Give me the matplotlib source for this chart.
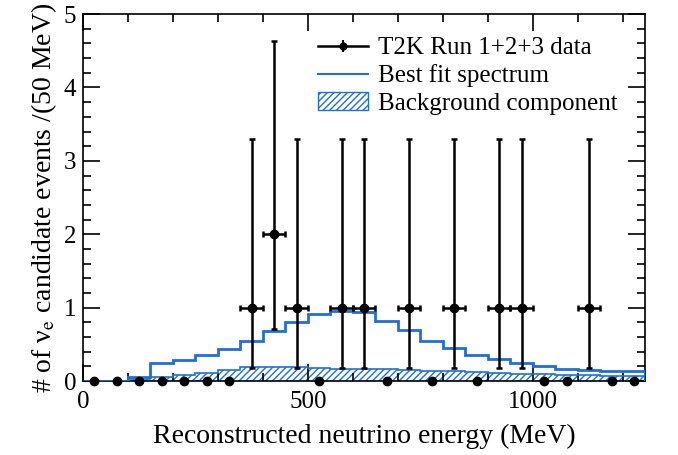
import numpy as np
import matplotlib.pyplot as plt
from matplotlib.patches import Patch
from matplotlib.lines import Line2D
from matplotlib.ticker import MultipleLocator

plt.rcParams['font.family'] = ['Liberation Serif', 'DejaVu Serif']
plt.rcParams['mathtext.fontset'] = 'stix'
plt.rcParams['hatch.linewidth'] = 1.0

# 50 MeV bins from 0 to 1250 MeV
bin_edges = np.arange(0, 1251, 50)
bin_centers = bin_edges[:-1] + 25

# observed events per bin
data_counts = [0, 0, 0, 0, 0, 0, 0, 1, 2, 1, 0, 1, 1, 0, 1, 0, 1, 0, 1, 1, 0, 0, 1, 0, 0]
# poisson 68% intervals (lower / upper edge)
err_low = {1: 0.173, 2: 0.708}
err_high = {1: 3.30, 2: 4.64}

# best fit spectrum
best_fit = [0.0, 0.0, 0.05, 0.25, 0.29, 0.36, 0.43, 0.55, 0.68, 0.81, 0.91, 0.96, 0.945,
            0.82, 0.70, 0.55, 0.45, 0.36, 0.30, 0.24, 0.20, 0.17, 0.15, 0.14, 0.13]
# background component
background = [0.0, 0.0, 0.03, 0.05, 0.08, 0.11, 0.15, 0.19, 0.19, 0.19, 0.18, 0.17, 0.165,
              0.16, 0.15, 0.14, 0.13, 0.12, 0.11, 0.10, 0.09, 0.08, 0.08, 0.07, 0.07]

blue = '#1f6fd6'

fig = plt.figure(figsize=(6.78, 4.55), dpi=100)
ax = fig.add_axes([0.1224, 0.1626, 0.8296, 0.8064])

# background, hatched
ax.stairs(background, bin_edges, fill=True, facecolor='white', edgecolor=blue,
          hatch='/////', linewidth=0, zorder=1)
ax.stairs(background, bin_edges, color=blue, linewidth=1.2, zorder=2)
# best fit
ax.stairs(best_fit, bin_edges, color=blue, linewidth=2, zorder=3)

# data points
counts = np.array(data_counts)
nz = counts > 0
lo = np.array([counts[i] - err_low[c] if c > 0 else 0 for i, c in enumerate(counts)])
hi = np.array([err_high[c] - counts[i] if c > 0 else 0 for i, c in enumerate(counts)])
ax.errorbar(bin_centers[nz], counts[nz], yerr=[lo[nz], hi[nz]], xerr=25, fmt='o',
            color='black', ms=6, lw=1.8, capsize=2.5, capthick=1.8, zorder=5)
ax.plot(bin_centers[~nz], counts[~nz], 'o', color='black', ms=6, zorder=5, clip_on=False)

ax.set_xlim(0, 1250)
ax.set_ylim(0, 5)
ax.xaxis.set_major_locator(MultipleLocator(500))
ax.xaxis.set_minor_locator(MultipleLocator(100))
ax.yaxis.set_major_locator(MultipleLocator(1))
ax.yaxis.set_minor_locator(MultipleLocator(0.2))
ax.tick_params(which='both', direction='in', top=True, right=True, labelsize=18, width=1.2)
ax.tick_params(which='major', length=12)
ax.tick_params(which='minor', length=6)
ax.tick_params(axis='x', pad=7)
ax.tick_params(axis='y', pad=5)
for s in ax.spines.values():
    s.set_linewidth(1.2)

ax.set_xlabel('Reconstructed neutrino energy (MeV)', fontsize=20, labelpad=8)
ax.set_ylabel('# of ν$_\\mathrm{e}$ candidate events /(50 MeV)', fontsize=20, labelpad=3)

handles = [
    (Line2D([], [], color='black', marker='o', ms=5, lw=1.8),
     Line2D([], [], color='black', marker='|', ms=9, mew=1.5, ls='none')),
    Line2D([], [], color=blue, lw=1.5),
    Patch(facecolor='white', edgecolor=blue, hatch='/////'),
]
labels = ['T2K Run 1+2+3 data', 'Best fit spectrum', 'Background component']
ax.legend(handles, labels, loc='upper left', bbox_to_anchor=(0.40, 0.965), frameon=False,
          fontsize=18, handlelength=2.0, handletextpad=0.4, labelspacing=0.2, borderaxespad=0)

fig.savefig('out.png', dpi=100)
